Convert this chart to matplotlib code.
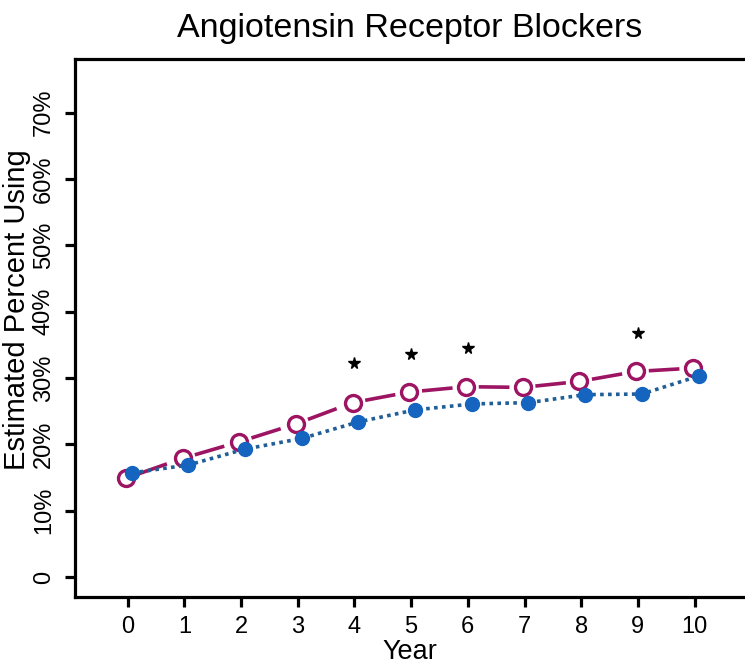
#!/usr/bin/env python3
"""Angiotensin Receptor Blockers - estimated percent using by year."""

import matplotlib
matplotlib.use("Agg")
import matplotlib.pyplot as plt

# Data
years = [0, 1, 2, 3, 4, 5, 6, 7, 8, 9, 10]
open_group = [14.9, 17.9, 20.4, 23.1, 26.3, 27.9, 28.7, 28.6, 29.5, 31.0, 31.5]
filled_group = [15.7, 16.9, 19.3, 20.9, 23.4, 25.2, 26.1, 26.3, 27.5, 27.6, 30.3]
star_years = [4, 5, 6, 9]
star_levels = [32.2, 33.7, 34.6, 36.8]

y_ticks = [0, 10, 20, 30, 40, 50, 60, 70]
y_tick_labels = ["0", "10%", "20%", "30%", "40%", "50%", "60%", "70%"]

MAGENTA = "#9c1462"
BLUE = "#1565c0"
BLUE_LINE = "#1f5e96"

plt.rcParams["font.family"] = ["Liberation Sans", "DejaVu Sans"]

fig = plt.figure(figsize=(7.45, 6.69), dpi=100)
ax = fig.add_axes([75 / 745, 72 / 669, 670 / 745, 538 / 669])

# Small horizontal offsets so the two series don't sit on top of each other
x_open = [x - 0.03 for x in years]
x_filled = [x + 0.07 for x in years]

# dashed segments drawn one by one so the dash pattern restarts at each point
for i in range(len(years) - 1):
    ax.plot(x_open[i:i + 2], open_group[i:i + 2], color=MAGENTA, lw=2.6,
            linestyle=(8.5, (8.5, 3.5)), solid_capstyle="butt", zorder=2)
ax.plot(x_open, open_group, linestyle="none", marker="o", markersize=11.5,
        markerfacecolor="white", markeredgecolor=MAGENTA,
        markeredgewidth=2.4, zorder=3)

ax.plot(x_filled, filled_group, color=BLUE_LINE, lw=2.6, dashes=(1, 1.2),
        marker="o", markersize=10, markerfacecolor=BLUE,
        markeredgecolor=BLUE, zorder=4)
ax.plot(star_years, star_levels, linestyle="none", marker="*", markersize=8.5,
        color="black")

ax.set_xlim(-0.93, 10.89)
ax.set_ylim(-3.0, 78.1)
ax.set_xticks(years)
ax.set_yticks(y_ticks)
ax.set_yticklabels(y_tick_labels, rotation=90, va="center")

ax.spines["right"].set_visible(False)
for side in ["left", "top", "bottom"]:
    ax.spines[side].set_linewidth(2.3)
ax.tick_params(axis="both", direction="out", length=7.5, width=2.3,
               labelsize=17)
ax.tick_params(axis="y", pad=7)
ax.tick_params(axis="x", pad=6)

ax.set_xlabel("Year", fontsize=19.5, labelpad=1)
ax.set_ylabel("Estimated Percent Using", fontsize=21, va="center")
ax.yaxis.set_label_coords((17 - 75) / 670, (597 - 310) / 538)
fig.text(410 / 745, 1 - 28 / 669, "Angiotensin Receptor Blockers",
         fontsize=24.5, ha="center", va="center")

fig.savefig("out.png", dpi=100)
